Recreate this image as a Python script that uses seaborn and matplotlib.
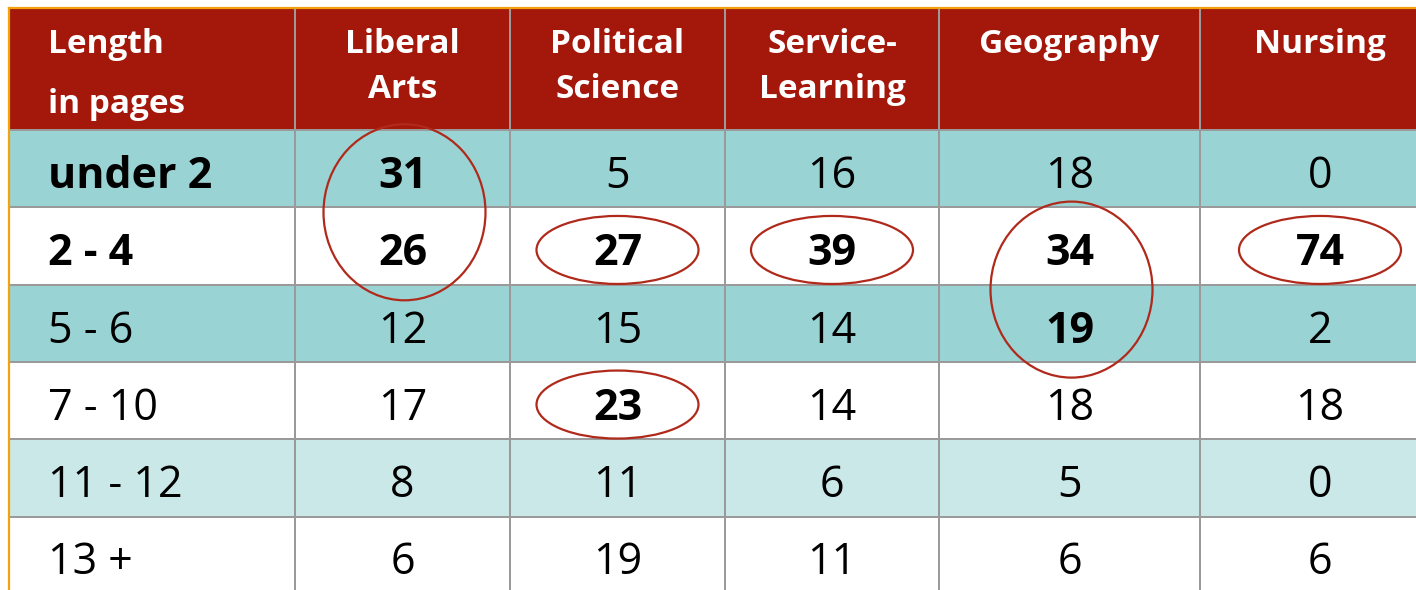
import matplotlib.pyplot as plt
import numpy as np
import pandas as pd
import seaborn as sns
from matplotlib.colors import ListedColormap
from matplotlib.patches import Ellipse

# Table content
lengths = ["under 2", "2 - 4", "5 - 6", "7 - 10", "11 - 12", "13 +"]
majors = ["Liberal\nArts", "Political\nScience", "Service-\nLearning", "Geography", "Nursing"]
liberal_arts = [31, 26, 12, 17, 8, 6]
political_science = [5, 27, 15, 23, 11, 19]
service_learning = [16, 39, 14, 14, 6, 11]
geography = [18, 34, 19, 18, 5, 6]
nursing = [0, 74, 2, 18, 0, 6]

# row shading: 0 white, 1 teal, 2 light teal
row_shade = [1, 0, 1, 0, 2, 0]
bold_rows = ["under 2", "2 - 4"]
# (major, row) cells written in bold
bold_cells = [(0, 0), (0, 1), (1, 1), (2, 1), (3, 1), (4, 1), (3, 2), (1, 3)]
# circled cells: (major, first row, last row)
circled = [(0, 0, 1), (1, 1, 1), (2, 1, 1), (3, 1, 2), (4, 1, 1), (1, 3, 3)]

df = pd.DataFrame(
    {m: v for m, v in zip(majors, [liberal_arts, political_science,
                                   service_learning, geography, nursing])},
    index=lengths,
)

W, H = 1416, 590
col_edges = [9, 295, 510, 725, 939, 1200, 1440]
head_top, head_bot = 8, 130
row_h = 77.3

red = "#A3180B"
teal = "#99D3D4"
light_teal = "#CBE8E8"
grid = "#9A9A9A"
cmap = ListedColormap(["white", teal, light_teal, red])
font = "Open Sans"

fig = plt.figure(figsize=(W / 100, H / 100), dpi=100)


def px_axes(x0, y0, x1, y1):
    return fig.add_axes([x0 / W, 1 - y1 / H, (x1 - x0) / W, (y1 - y0) / H])


def head_y(py):
    return (py - head_top) / (head_bot - head_top)


body_bot = head_bot + row_h * len(lengths)
columns = ["Length\nin pages"] + majors
for ci, name in enumerate(columns):
    x0, x1 = col_edges[ci], col_edges[ci + 1]

    # header cell
    hax = px_axes(x0, head_top, x1, head_bot)
    sns.heatmap([[3]], ax=hax, cmap=cmap, vmin=-0.5, vmax=3.5, cbar=False,
                linewidths=1.4, linecolor=grid, xticklabels=False, yticklabels=False)
    lines = name.split("\n")
    gap = 60 if ci == 0 else 45
    for li, line in enumerate(lines):
        if ci == 0:
            hx, ha = 39 / (x1 - x0), "left"
        else:
            hx, ha = 0.5, "center"
        hax.text(hx, head_y(53 + li * gap), line, ha=ha, va="baseline",
                 color="white", fontsize=24, fontweight="bold", family=font)

    # body cells
    bax = px_axes(x0, head_bot, x1, body_bot)
    codes = np.array(row_shade).reshape(-1, 1)
    sns.heatmap(codes, ax=bax, cmap=cmap, vmin=-0.5, vmax=3.5, cbar=False,
                linewidths=1.4, linecolor=grid, xticklabels=False, yticklabels=False)
    for ri, lab in enumerate(lengths):
        by = ri + 58 / row_h
        if ci == 0:
            bold = lab in bold_rows
            bax.text(39 / (x1 - x0), by, lab, ha="left", va="baseline",
                     fontsize=31, fontweight="bold" if bold else "normal",
                     family=font, color="black")
        else:
            val = df.iloc[ri, ci - 1]
            bold = (ci - 1, ri) in bold_cells
            bax.text(0.5, by, str(val), ha="center", va="baseline",
                     fontsize=31, fontweight="bold" if bold else "normal",
                     family=font, color="black")

# overlay for borders and circled highlights
ov = fig.add_axes([0, 0, 1, 1], zorder=10)
ov.set_xlim(0, W)
ov.set_ylim(H, 0)
ov.axis("off")
ov.patch.set_alpha(0)
ov.plot([col_edges[0], col_edges[0]], [head_top, H], color="#F2A20C", lw=1.6)
ov.plot([col_edges[0], W], [head_top, head_top], color="#F2A20C", lw=1.6)

for mi, r0, r1 in circled:
    cx = (col_edges[mi + 1] + col_edges[mi + 2]) / 2
    cy = head_bot + row_h * (r0 + r1 + 1) / 2
    if r0 != r1:
        w, h = 162, 176
        cx, cy = cx + 2, cy + 5
    else:
        w, h = 162, 68
        cy += 4
    ov.add_patch(Ellipse((cx, cy), w, h, fill=False, edgecolor="#B02A1C", lw=1.6))

fig.savefig("out.png", dpi=100)
